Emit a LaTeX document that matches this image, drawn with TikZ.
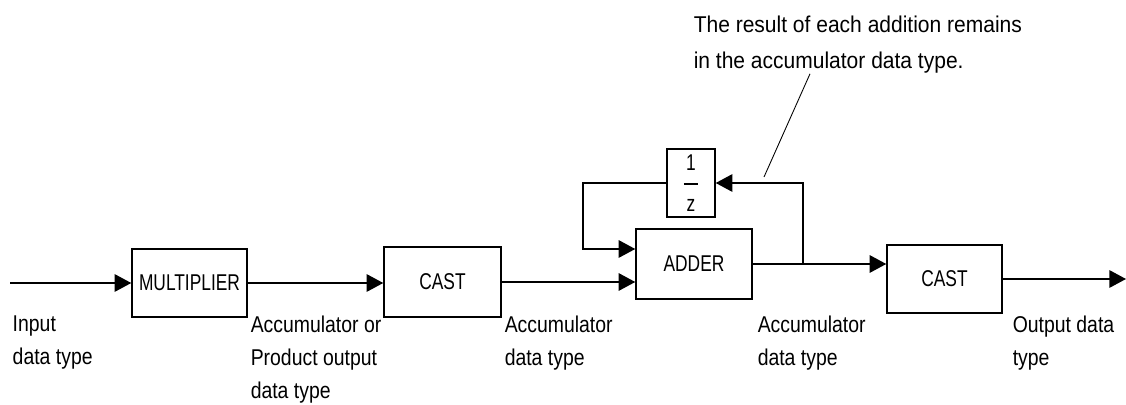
\documentclass[tikz,border=0pt]{standalone}
\usepackage{fontspec}
\setmainfont{Liberation Sans}[FakeStretch=0.85]
\newfontfamily\blockfont{Liberation Sans}[FakeStretch=0.76]
\newfontfamily\notefont{Liberation Sans}[FakeStretch=0.92]
\usetikzlibrary{arrows.meta}

\begin{document}
\begin{tikzpicture}[x=0.02cm,y=-0.02cm,line width=0.85pt,
  font=\fontsize{13}{18.8}\selectfont,
  block/.style={draw,rectangle,inner sep=0pt,minimum width=2.3cm,minimum height=1.36cm,
    font=\blockfont\fontsize{13}{14}\selectfont},
  sig/.style={-{Triangle[length=9.5pt,width=10pt]}},
  lbl/.style={anchor=north west,align=left,inner sep=0pt},
  lead/.style={line width=0.5pt}]
% Fix the frame
\useasboundingbox (0,0) rectangle (1126,405);

% Blocks of the chain
\node[block] (mult) at (189.5,283) {MULTIPLIER};
\node[block,minimum width=2.34cm,minimum height=1.4cm] (castA) at (442.5,282) {CAST};
\node[block,minimum width=2.32cm,minimum height=1.4cm] (adder) at (694,264) {ADDER};
\node[block,minimum width=0.96cm,align=center] (delay) at (691,183)
  {1\\[-6pt]\rule{8pt}{0.8pt}\\[1.2pt]z};
\node[block] (castB) at (944.5,279) {CAST};

% Signal lines
\coordinate (in) at (10,283);
\coordinate (out) at (1126,279);
\coordinate (fb) at (583,249);
\coordinate (br) at (803,264);
\draw[sig] (in) -- (in -| mult.west);
\draw[sig] (mult.east) -- (mult.east -| castA.west);
\draw[sig] (castA.east) -- (castA.east -| adder.west);
\draw[sig] (delay.west) -| (fb) -- (fb -| adder.west);
\draw[sig] (adder.east) -- (adder.east -| castB.west);
\draw[sig] (br) |- (delay.east);
\draw[sig] (castB.east) -- (out);

% Data type labels
\node[lbl] (lin) at (12,315) {Input\\data type};
\node[lbl] (lprod) at (250,315) {Accumulator or\\Product output\\data type};
\node[lbl] (lacc1) at (504,315) {Accumulator\\data type};
\node[lbl] (lacc2) at (757,315) {Accumulator\\data type};
\node[lbl] (lout) at (1012,315) {Output data\\type};

% Callout
\node[lbl,font=\notefont\fontsize{13}{20.5}\selectfont] (note) at (693,15)
  {The result of each addition remains\\in the accumulator data type.};
\coordinate (nfoot) at (810,73);
\coordinate (ntip) at (764,177);
\draw[lead] (note.south -| nfoot) -- (ntip);
\end{tikzpicture}
\end{document}
